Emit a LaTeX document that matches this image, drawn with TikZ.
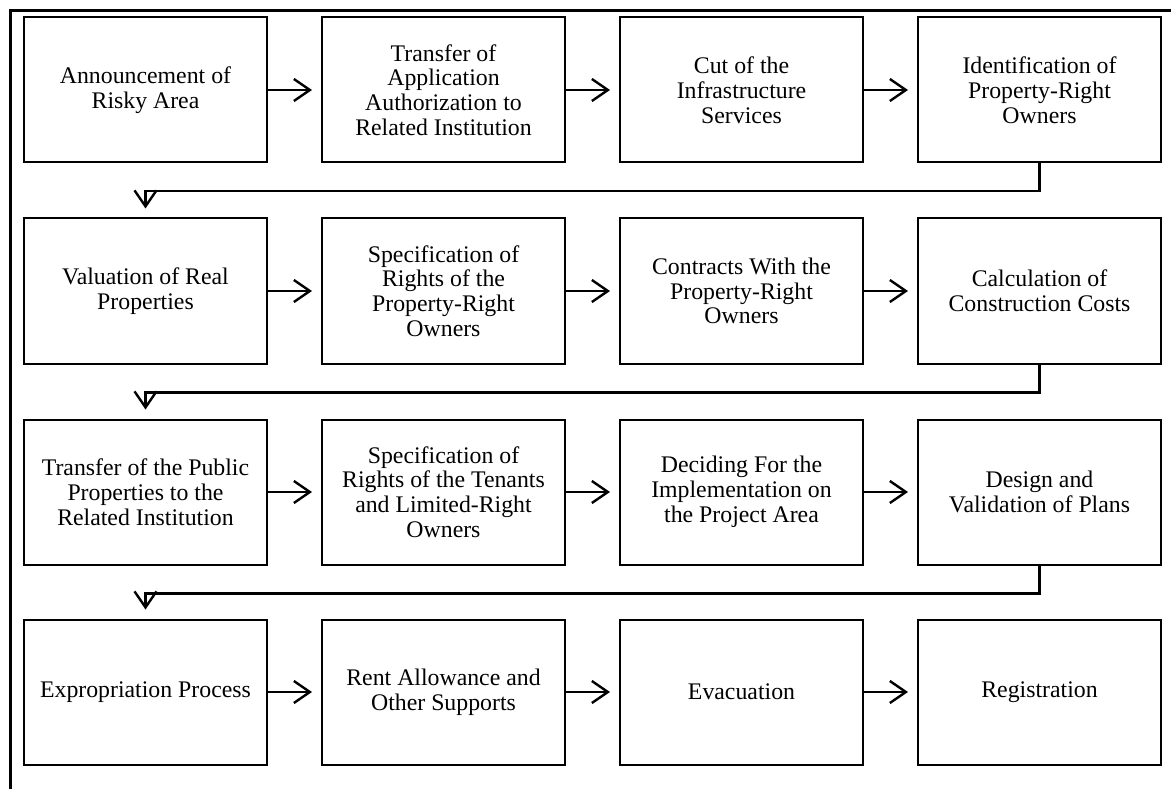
\documentclass[tikz,border=0pt]{standalone}
\usepackage{fontspec}
\setmainfont{Liberation Serif}
\usetikzlibrary{arrows.meta}
\begin{document}
\begin{tikzpicture}[x=1pt,y=-1pt,
  stepbox/.style={draw, line width=2pt, minimum width=243pt, minimum height=145pt,
    inner sep=0pt, align=center, font=\fontsize{23.8}{24.8}\selectfont},
  flow/.style={line width=2.4pt, shorten >=9pt,
    -{Straight Barb[length=16pt,width=22pt,line width=2.4pt]}}]
\useasboundingbox (0,0) rectangle (1171,789);
% frame
\draw[line width=3pt] (10.5,789) -- (10.5,10.5) -- (1171,10.5);
% row 1
\node[stepbox] (b1) at (145.5,90) {Announcement of\\Risky Area};
\node[stepbox] (b2) at (443.5,90) {Transfer of\\Application\\Authorization to\\Related Institution};
\node[stepbox] (b3) at (741.5,90) {Cut of the\\Infrastructure\\Services};
\node[stepbox] (b4) at (1039.5,90) {Identification of\\Property-Right\\Owners};
% row 2
\node[stepbox] (b5) at (145.5,291) {Valuation of Real\\Properties};
\node[stepbox] (b6) at (443.5,291) {Specification of\\Rights of the\\Property-Right\\Owners};
\node[stepbox] (b7) at (741.5,291) {Contracts With the\\Property-Right\\Owners};
\node[stepbox] (b8) at (1039.5,291) {Calculation of\\Construction Costs};
% row 3
\node[stepbox] (b9) at (145.5,492) {Transfer of the Public\\Properties to the\\Related Institution};
\node[stepbox] (b10) at (443.5,492) {Specification of\\Rights of the Tenants\\and Limited-Right\\Owners};
\node[stepbox] (b11) at (741.5,492) {Deciding For the\\Implementation on\\the Project Area};
\node[stepbox] (b12) at (1039.5,492) {Design and\\Validation of Plans};
% row 4
\node[stepbox] (b13) at (145.5,692) {Expropriation Process};
\node[stepbox] (b14) at (443.5,692) {Rent Allowance and\\Other Supports};
\node[stepbox] (b15) at (741.5,692) {Evacuation};
\node[stepbox] (b16) at (1039.5,692) {Registration};
% horizontal links
\foreach \a/\b in {b1/b2,b2/b3,b3/b4,b5/b6,b6/b7,b7/b8,b9/b10,b10/b11,b11/b12,b13/b14,b14/b15,b15/b16}
  \draw[flow] (\a) -- (\b);
% row-to-row links
\draw[flow] (b4.south) -- ++(0,27.5) -| (b5.north);
\draw[flow] (b8.south) -- ++(0,28) -| (b9.north);
\draw[flow] (b12.south) -- ++(0,28) -| (b13.north);
\end{tikzpicture}
\end{document}
